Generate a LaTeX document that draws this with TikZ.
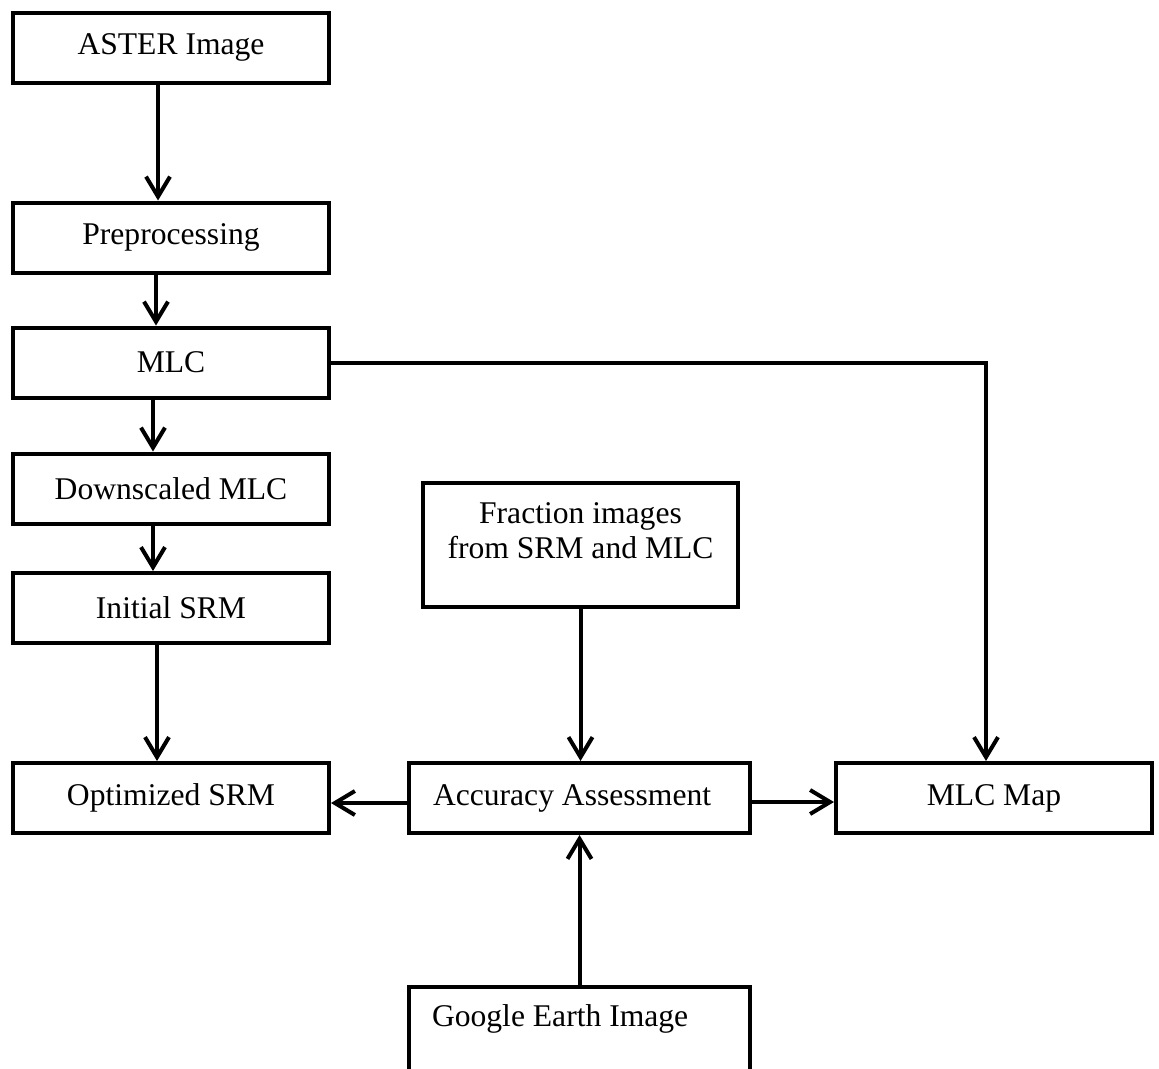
\documentclass[tikz,border=0pt]{standalone}
\usepackage{fontspec}
\setmainfont{Liberation Serif}
\usetikzlibrary{arrows.meta, positioning}
\tikzset{
  stage/.style={
    rectangle,
    minimum width=316pt,
    minimum height=70pt,
    inner sep=0pt,
    align=center,
    draw=black,
    line width=4pt,
    font=\fontsize{31.6}{35}\selectfont
  },
  arrow/.style={line width=4pt,-{Straight Barb[length=20pt,width=24pt]}},
}

\begin{document}
\begin{tikzpicture}[x=1pt,y=-1pt]
  \useasboundingbox (0,0) rectangle (1159,1068);
  \node (aster) [stage] at (171,47.5) {ASTER Image};
  \node (pre) [stage] at (171,237.5) {Preprocessing};
  \node (mlc) [stage] at (171,362.5) {MLC};
  \node (down) [stage] at (171,488.5) {Downscaled MLC};
  \node (init) [stage] at (171,608) {Initial SRM};
  \node (opt) [stage] at (171,798) {Optimized SRM};
  \node (frac) [stage, minimum width=315pt, minimum height=124pt] at (580.5,545)
    {\parbox[c][124pt][t]{300pt}{\vspace*{20pt}\centering Fraction images\\from SRM and MLC}};
  \node (acc) [stage, minimum width=341pt, text width=293pt, align=flush left] at (579.5,798)
    {Accuracy Assessment};
  \node (map) [stage] at (994,798) {MLC Map};
  \node (google) [stage, minimum width=341pt, minimum height=150pt, anchor=north] at (579.5,985)
    {\parbox[c][150pt][t]{295pt}{\vspace*{18pt}Google Earth Image}};

  \draw[arrow] ([xshift=-13pt]aster.south) -- ([xshift=-13pt]pre.north);
  \draw[arrow] ([xshift=-15pt]pre.south) -- ([xshift=-15pt]mlc.north);
  \draw[arrow] ([xshift=-18pt]mlc.south) -- ([xshift=-18pt]down.north);
  \draw[arrow] ([xshift=-18pt]down.south) -- ([xshift=-18pt]init.north);
  \draw[arrow] ([xshift=-14pt]init.south) -- ([xshift=-14pt]opt.north);
  \draw[arrow] (mlc.east) -| ([xshift=-8pt]map.north);
  \draw[arrow] (frac.south) -- (frac.south |- acc.north);
  \draw[arrow] (google.north) -- (acc.south);
  \draw[arrow] ([yshift=-5pt]acc.west) -- ([yshift=-5pt]opt.east);
  \draw[arrow] ([yshift=-4pt]acc.east) -- ([yshift=-4pt]map.west);
\end{tikzpicture}
\end{document}
